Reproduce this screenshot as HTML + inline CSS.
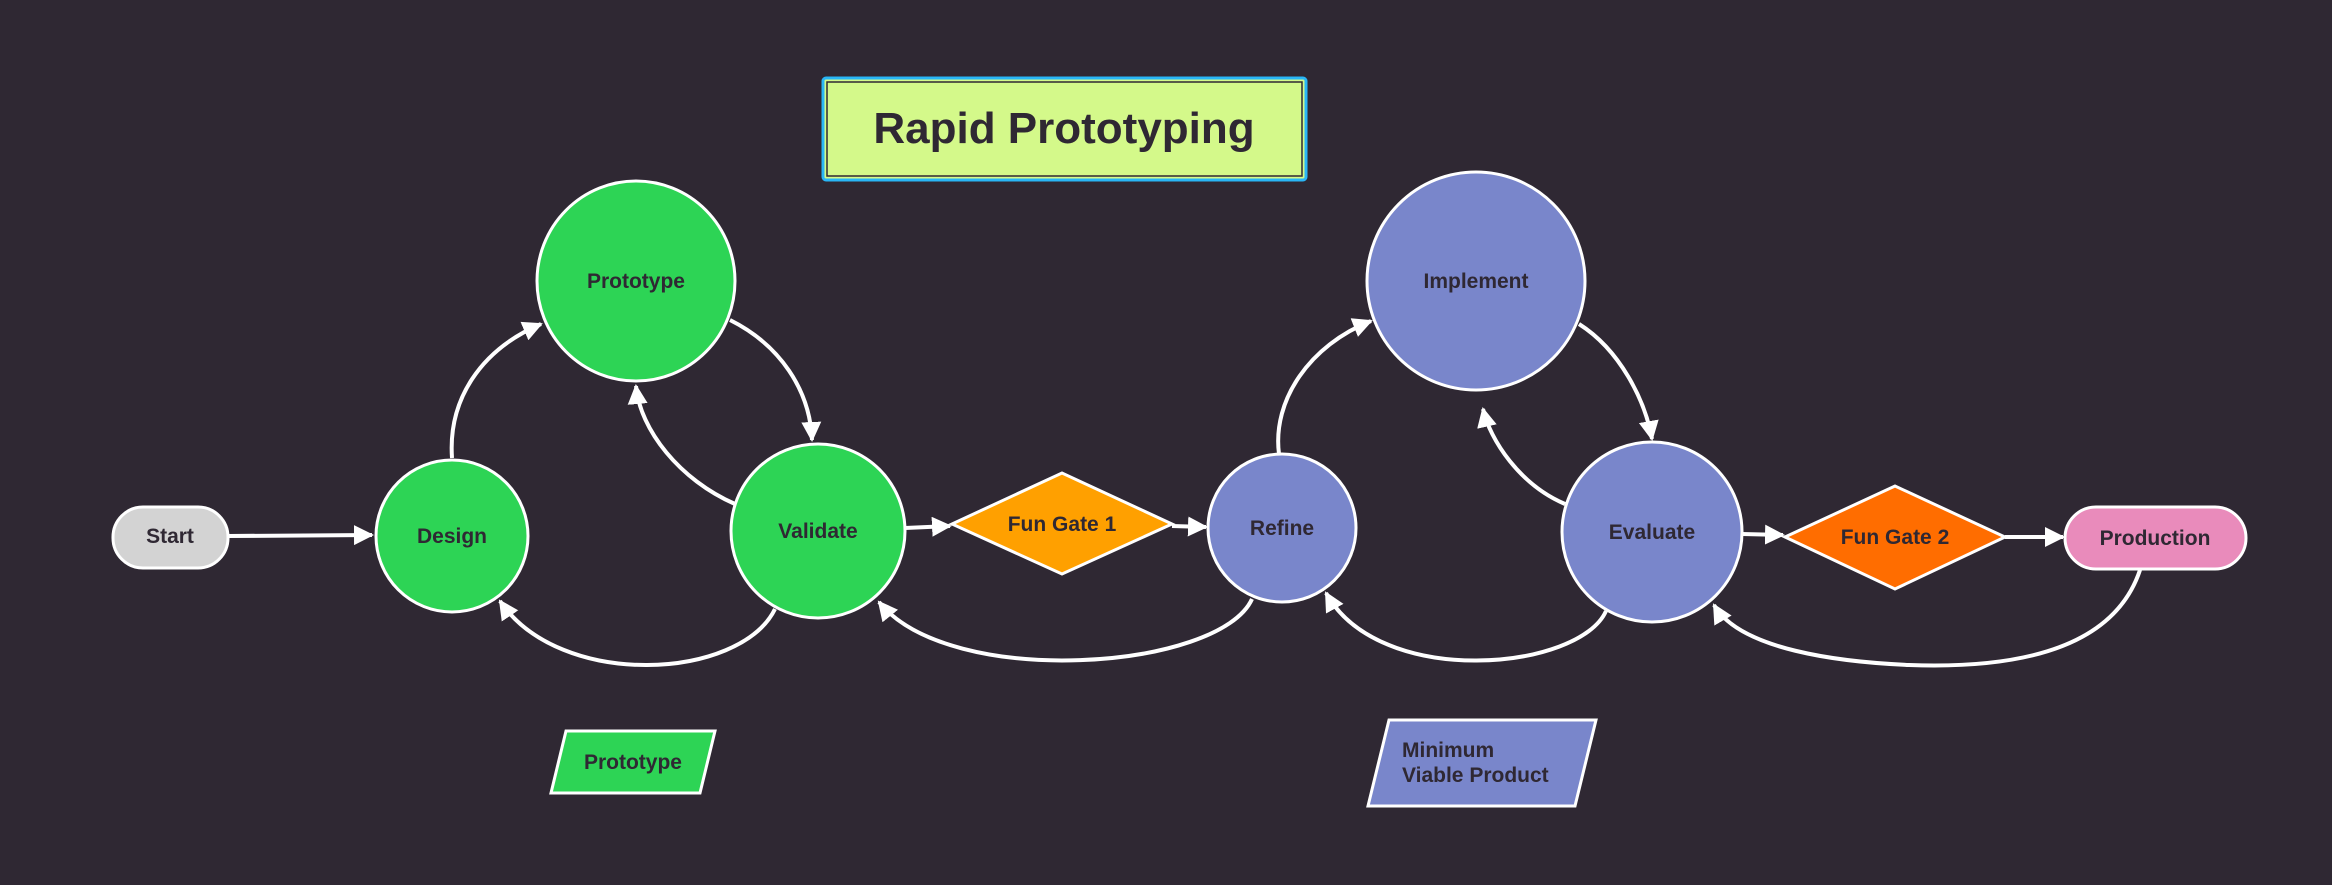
<!DOCTYPE html>
<html><head><meta charset="utf-8"><style>
html,body{margin:0;padding:0;background:#2f2833;}
svg{display:block}
text{font-family:"Liberation Sans",sans-serif;font-weight:bold;fill:#2f2833;}
</style></head><body>
<svg width="2332" height="885" viewBox="0 0 2332 885" xmlns="http://www.w3.org/2000/svg">
<defs>
<marker id="a" viewBox="0 0 10 10" refX="9" refY="5" markerWidth="5" markerHeight="5" orient="auto" markerUnits="strokeWidth">
<path d="M0,0 L10,5 L0,10 z" fill="#fff"/></marker>
</defs>
<rect width="2332" height="885" fill="#2f2833"/>
<!-- title -->
<rect x="823" y="78" width="483" height="102" rx="3" fill="#d4f98a" stroke="#29b6f6" stroke-width="3"/>
<rect x="827" y="82" width="475" height="94" fill="none" stroke="#2f2833" stroke-width="1.5"/>
<text x="1064" y="143" font-size="44" text-anchor="middle">Rapid Prototyping</text>

<g fill="none" stroke="#fff" stroke-width="4">
<!-- straight -->
<path d="M228,536 L372,535" marker-end="url(#a)"/>
<path d="M905,528 L950,526" marker-end="url(#a)"/>
<path d="M1172,526 L1206,527" marker-end="url(#a)"/>
<path d="M1742,534 L1783,535" marker-end="url(#a)"/>
<path d="M2005,537 L2063,537" marker-end="url(#a)"/>
<!-- curves -->
<path d="M452,458 C448,400 480,350 541,324" marker-end="url(#a)"/>
<path d="M730,320 C780,345 810,390 812,440" marker-end="url(#a)"/>
<path d="M735,504 C680,480 640,430 636,386" marker-end="url(#a)"/>
<path d="M775,609 C740,680 560,690 500,601" marker-end="url(#a)"/>
<path d="M1252,599 C1220,670 950,690 879,602" marker-end="url(#a)"/>
<path d="M1279,454 C1272,400 1310,345 1371,321" marker-end="url(#a)"/>
<path d="M1579,324 C1620,350 1645,400 1652,439" marker-end="url(#a)"/>
<path d="M1565,504 C1520,485 1490,440 1483,409" marker-end="url(#a)"/>
<path d="M1606,611 C1580,670 1380,690 1326,593" marker-end="url(#a)"/>
<path d="M2140,570 C2110,660 1990,668 1909,665 C1840,662 1740,650 1714,605" marker-end="url(#a)"/>
</g>

<g stroke="#fff" stroke-width="3">
<rect x="113" y="507" width="115" height="61" rx="30" fill="#d3d3d3"/>
<circle cx="452" cy="536" r="76" fill="#2dd455"/>
<ellipse cx="636" cy="281" rx="99" ry="100" fill="#2dd455"/>
<ellipse cx="818" cy="531" rx="87" ry="87" fill="#2dd455"/>
<polygon points="952,524 1062,473 1172,524 1062,574" fill="#ffa000"/>
<ellipse cx="1282" cy="528" rx="74" ry="74" fill="#7986cb"/>
<ellipse cx="1476" cy="281" rx="109" ry="109" fill="#7986cb"/>
<ellipse cx="1652" cy="532" rx="90" ry="90" fill="#7986cb"/>
<polygon points="1785,537 1895,486 2005,537 1895,589" fill="#ff6d00"/>
<rect x="2065" y="507" width="181" height="62" rx="31" fill="#e98bbb"/>
<polygon points="566,731 715,731 700,793 551,793" fill="#2dd455"/>
<polygon points="1389,720 1596,720 1575,806 1368,806" fill="#7986cb"/>
</g>

<g font-size="21" text-anchor="middle">
<text x="170" y="543">Start</text>
<text x="452" y="543">Design</text>
<text x="636" y="288">Prototype</text>
<text x="818" y="538">Validate</text>
<text x="1062" y="531">Fun Gate 1</text>
<text x="1282" y="535">Refine</text>
<text x="1476" y="288">Implement</text>
<text x="1652" y="539">Evaluate</text>
<text x="1895" y="544">Fun Gate 2</text>
<text x="2155" y="545">Production</text>
<text x="633" y="769">Prototype</text>
</g>
<text x="1402" y="757" font-size="21">Minimum</text>
<text x="1402" y="782" font-size="21">Viable Product</text>
</svg>
</body></html>
